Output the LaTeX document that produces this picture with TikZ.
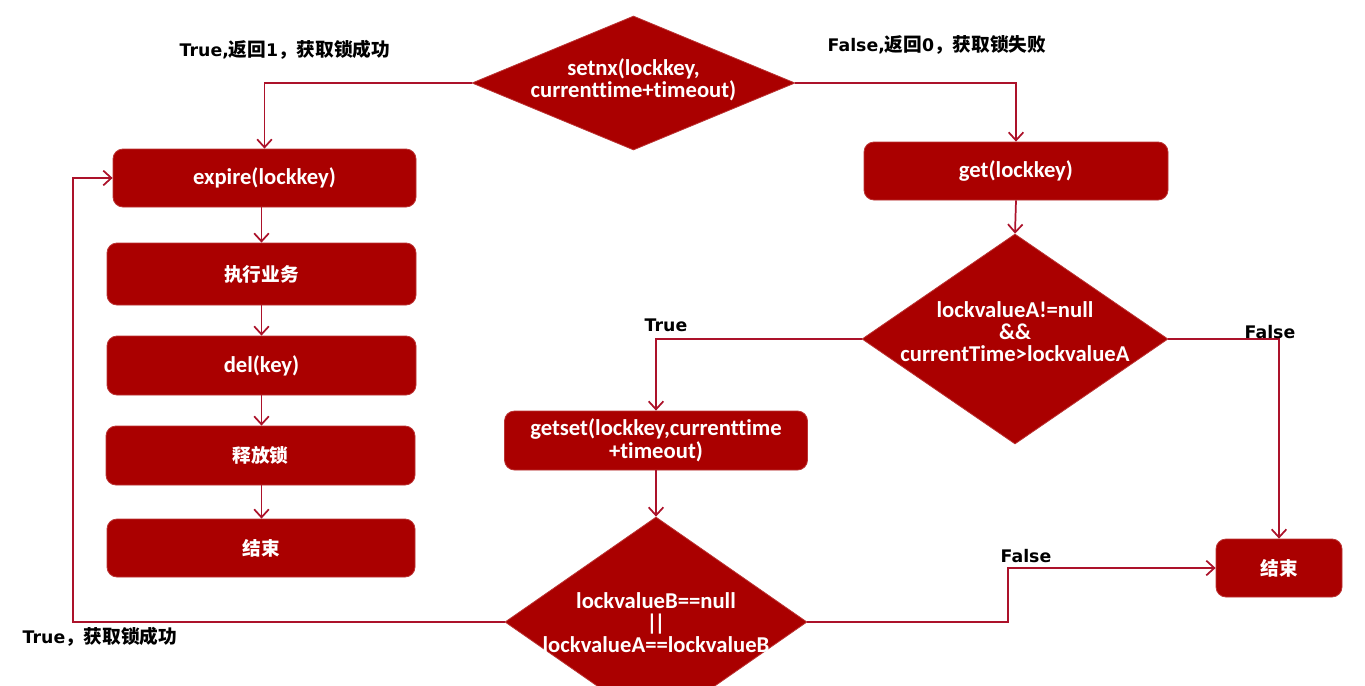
\documentclass[tikz,border=0pt]{standalone}
\usepackage{fontspec}
\setmainfont{Carlito}[Ligatures=NoCommon]
\newfontfamily\cjk{Noto Sans CJK SC}
\newfontfamily\lab{DejaVu Sans}
\usetikzlibrary{shapes.geometric,arrows.meta}
\definecolor{boxred}{RGB}{170,0,0}
\definecolor{linered}{RGB}{172,18,42}
\newcommand{\wcn}[1]{{\cjk\bfseries\fontsize{14}{16}\selectfont #1}}
\newcommand{\lcn}[1]{{\cjk\bfseries\fontsize{14}{16}\selectfont #1}}
\begin{document}
\begin{tikzpicture}[x=0.75pt,y=-0.75pt,
  box/.style={draw=boxred!80!white,line width=0.6pt,fill=boxred,rounded corners=7.5pt,text=white,
    font=\fontsize{17}{17}\selectfont\bfseries,align=center,inner sep=0pt},
  dia/.style={diamond,draw=boxred!80!white,line width=0.6pt,fill=boxred,inner sep=0pt},
  wtext/.style={text=white,font=\fontsize{17}{16.5}\selectfont\bfseries,align=center,inner sep=0pt},
  lbl/.style={text=black,font=\lab\fontsize{13}{15}\selectfont\bfseries,inner sep=0pt},
  arr/.style={draw=linered,line width=1.3pt,-{Straight Barb[length=6pt,width=11pt,line width=1.3pt]}}]
\clip (0,0) rectangle (1365,686);
\fill[white] (0,0) rectangle (1365,686);

% left column
\node[box,minimum width=303*0.75pt,minimum height=58*0.75pt] (expire) at (264.5,178) {expire(lockkey)};
\node[box,minimum width=309*0.75pt,minimum height=62*0.75pt] (exec) at (261.5,274) {\wcn{执行业务}};
\node[box,minimum width=309*0.75pt,minimum height=59*0.75pt] (del) at (261.5,365.5) {del(key)};
\node[box,minimum width=309*0.75pt,minimum height=59*0.75pt] (rel) at (260.5,455.5) {\wcn{释放锁}};
\node[box,minimum width=308*0.75pt,minimum height=58*0.75pt] (endl) at (261,548) {\wcn{结束}};

% right part
\node[box,minimum width=304*0.75pt,minimum height=58*0.75pt] (get) at (1016,171) {get(lockkey)};
\node[box,minimum width=303*0.75pt,minimum height=59*0.75pt] (getset) at (656,440.5) {getset(lockkey,currenttime\\+timeout)};
\node[box,minimum width=126*0.75pt,minimum height=58*0.75pt] (endr) at (1279,568) {\wcn{结束}};

% diamonds
\node[dia,minimum width=323*0.75pt,minimum height=134*0.75pt] (d1) at (633.5,83) {};
\node[wtext] at (633.5,80) {setnx(lockkey,\\currenttime+timeout)};
\node[dia,minimum width=306*0.75pt,minimum height=210*0.75pt] (d2) at (1015,339) {};
\node[wtext] at (1015,332) {lockvalueA!=null\\\&\&\\currentTime>lockvalueA};
\node[dia,minimum width=302*0.75pt,minimum height=210*0.75pt] (d3) at (656,622) {};
\node[wtext] at (656,623) {lockvalueB==null\\|\kern-2.2pt|\\lockvalueA==lockvalueB};

% helper coordinates
\coordinate (lb) at (73,622);
\coordinate (rb) at (1008,622);

% connectors
\draw[arr] (d1.west) -| (expire.north);
\draw[arr] (d1.east) -| (get.north);
\draw[arr] (exec.north |- expire.south) -- (exec.north);
\draw[arr] (exec.south) -- (del.north);
\draw[arr] (del.south) -- (del.south |- rel.north);
\draw[arr] (del.south |- rel.south) -- (del.south |- endl.north);
\draw[arr] (get.south) -- (d2.north);
\draw[arr] (d2.west) -| (getset.north);
\draw[arr] (d2.east) -| (endr.north);
\draw[arr] (getset.south) -- (d3.north);
\draw[arr] (d3.west) -- (lb) |- (expire.west);
\draw[arr] (d3.east) -- (rb) |- (endr.west);

% labels
\node[lbl] (l1) at (285,50) {True,\lcn{返回}1\lcn{，获取锁成功}};
\node[lbl] (l2) at (937,45) {False,\lcn{返回}0\lcn{，获取锁失败}};
\node[lbl] (l3) at (666,325) {True};
\node[lbl] (l4) at (1270,332) {False};
\node[lbl] (l5) at (1026,556) {False};
\node[lbl] (l6) at (100,637) {True\lcn{，获取锁成功}};
\end{tikzpicture}
\end{document}
